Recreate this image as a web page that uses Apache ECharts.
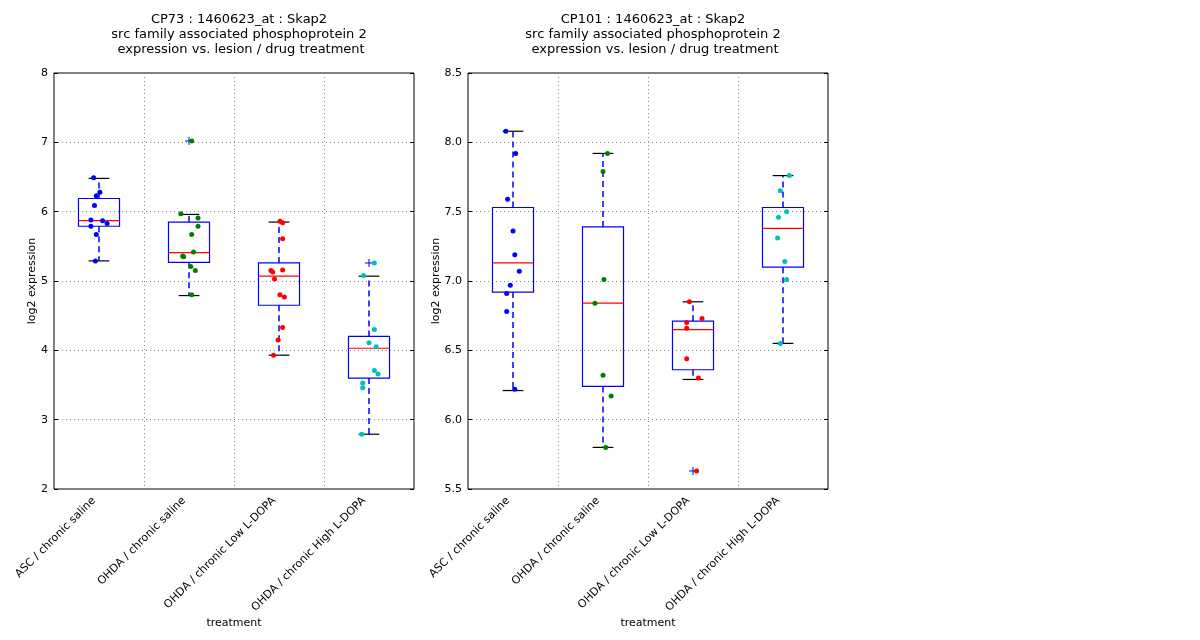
<!DOCTYPE html>
<html>
<head>
<meta charset="utf-8">
<script src="https://cdn.jsdelivr.net/npm/echarts@6/dist/echarts.min.js"></script>
<style>
  html, body { margin: 0; padding: 0; background: #fff; }
  #chart { width: 1200px; height: 640px; }
</style>
</head>
<body>
<div id="chart"></div>
<script>
// categories on the x axis
var categories = ['ASC / chronic saline', 'OHDA / chronic saline', 'OHDA / chronic Low L-DOPA', 'OHDA / chronic High L-DOPA'];
var groupColors = ['#0000ff', '#008000', '#ff0000', '#00bfbf'];

// box stats per group: [min, q1, median, q3, max]
var cp73Box = [[5.29, 5.79, 5.87, 6.19, 6.48], [4.79, 5.27, 5.41, 5.85, 5.96], [3.93, 4.65, 5.07, 5.26, 5.85], [2.79, 3.60, 4.03, 4.20, 5.07]];
var cp101Box = [[6.21, 6.92, 7.13, 7.53, 8.08], [5.80, 6.24, 6.84, 7.39, 7.92], [6.29, 6.36, 6.65, 6.71, 6.85], [6.55, 7.10, 7.38, 7.53, 7.76]];

// outliers: [group, value]
var cp73Outliers = [[2, 7.02], [4, 5.26]];
var cp101Outliers = [[3, 5.63]];

// jittered sample points: [x position, value]
var cp73Asc = [[0.94, 6.49], [1.01, 6.28], [0.97, 6.23], [0.95, 6.09], [0.91, 5.88], [1.04, 5.87], [1.09, 5.83], [0.91, 5.79], [0.97, 5.67], [0.96, 5.29]];
var cp73Saline = [[2.03, 7.02], [1.91, 5.97], [2.10, 5.91], [2.10, 5.79], [2.03, 5.67], [2.05, 5.42], [1.93, 5.36], [1.94, 5.35], [2.02, 5.21], [2.07, 5.15], [2.03, 4.80]];
var cp73Low = [[3.01, 5.86], [3.04, 5.84], [3.04, 5.61], [2.91, 5.15], [2.93, 5.13], [3.04, 5.16], [2.95, 5.03], [3.01, 4.80], [3.06, 4.77], [3.04, 4.33], [2.99, 4.15], [2.94, 3.93]];
var cp73High = [[4.06, 5.26], [3.94, 5.08], [4.06, 4.30], [4.00, 4.11], [4.08, 4.05], [4.06, 3.71], [4.10, 3.66], [3.93, 3.53], [3.93, 3.46], [3.92, 2.79]];

var cp101Asc = [[0.92, 8.08], [1.03, 7.92], [0.94, 7.59], [1.00, 7.36], [1.02, 7.19], [1.07, 7.07], [0.97, 6.97], [0.93, 6.91], [0.93, 6.78], [1.02, 6.22]];
var cp101Saline = [[2.05, 7.92], [2.00, 7.79], [2.01, 7.01], [1.91, 6.84], [2.00, 6.32], [2.09, 6.17], [2.03, 5.80]];
var cp101Low = [[2.96, 6.85], [3.10, 6.73], [2.93, 6.70], [2.93, 6.66], [2.93, 6.44], [3.06, 6.30], [3.04, 5.63]];
var cp101High = [[4.07, 7.76], [3.97, 7.65], [4.04, 7.50], [3.95, 7.46], [3.94, 7.31], [4.02, 7.14], [4.04, 7.01], [3.97, 6.55]];

var titles = [
  'CP73 : 1460623_at : Skap2\nsrc family associated phosphoprotein 2\n expression vs. lesion / drug treatment',
  'CP101 : 1460623_at : Skap2\nsrc family associated phosphoprotein 2\n expression vs. lesion / drug treatment'
];

var font = 'DejaVu Sans';
var halfBox = 0.228, halfCap = 0.115;

function boxRender(params, api) {
  var x = api.value(0);
  var mn = api.value(1), q1 = api.value(2), md = api.value(3), q3 = api.value(4), mx = api.value(5);
  function p(dx, v) { return api.coord([x + dx, v]); }
  function seg(a, b, style) {
    return { type: 'line', shape: { x1: a[0], y1: a[1], x2: b[0], y2: b[1] }, style: style };
  }
  var cx = Math.round(p(0, md)[0]);
  var whisk = { stroke: '#0000ff', lineWidth: 1.5, lineDash: [6, 4] };
  var cap = { stroke: '#000', lineWidth: 1.2 };
  var tl = p(-halfBox, q3), br = p(halfBox, q1);
  return {
    type: 'group',
    children: [
      seg([cx, p(0, q3)[1]], [cx, p(0, mx)[1]], whisk),
      seg([cx, p(0, q1)[1]], [cx, p(0, mn)[1]], whisk),
      seg(p(-halfCap, mx), p(halfCap, mx), cap),
      seg(p(-halfCap, mn), p(halfCap, mn), cap),
      { type: 'rect', shape: { x: tl[0], y: tl[1], width: br[0] - tl[0], height: br[1] - tl[1] },
        style: { fill: 'none', stroke: '#0000ff', lineWidth: 1.2 } },
      seg(p(-halfBox, md), p(halfBox, md), { stroke: '#ff0000', lineWidth: 1.2 })
    ]
  };
}

function plusRender(params, api) {
  var c = api.coord([api.value(0), api.value(1)]);
  var st = { stroke: '#0000ff', lineWidth: 1 };
  return {
    type: 'group',
    children: [
      { type: 'line', shape: { x1: c[0] - 4, y1: c[1], x2: c[0] + 4, y2: c[1] }, style: st },
      { type: 'line', shape: { x1: c[0], y1: c[1] - 4, x2: c[0], y2: c[1] + 4 }, style: st }
    ]
  };
}

var grids = [
  { left: 54, top: 73, width: 360, height: 416, show: true, borderColor: '#000', borderWidth: 1, backgroundColor: '#fff' },
  { left: 468, top: 73, width: 360, height: 416, show: true, borderColor: '#000', borderWidth: 1, backgroundColor: '#fff' }
];

var xAxes = [], yAxes = [], series = [];
var panels = [
  { box: cp73Box, outliers: cp73Outliers, points: [cp73Asc, cp73Saline, cp73Low, cp73High], min: 2, max: 8, interval: 1, nameGap: 16, fmt: function (v) { return String(v); } },
  { box: cp101Box, outliers: cp101Outliers, points: [cp101Asc, cp101Saline, cp101Low, cp101High], min: 5.5, max: 8.5, interval: 0.5, nameGap: 26, fmt: function (v) { return v.toFixed(1); } }
];

panels.forEach(function (pn, g) {
  xAxes.push({
    type: 'category', gridIndex: g, data: categories, boundaryGap: true,
    name: 'treatment', nameLocation: 'middle', nameGap: 129, nameMoveOverlap: false,
    nameTextStyle: { fontFamily: font, fontSize: 11, color: '#000' },
    axisLine: { show: false }, axisTick: { show: false },
    axisLabel: { rotate: 45, fontFamily: font, fontSize: 11, color: '#000', margin: 5, padding: [0, 7, 0, 0], interval: 0 },
    splitLine: { show: true, lineStyle: { color: '#888', type: [1, 3], width: 1 } }
  });
  var valIdx = xAxes.length;
  xAxes.push({ type: 'value', gridIndex: g, min: 0.5, max: 4.5, show: false, splitLine: { show: false } });

  var yIdx = yAxes.length;
  yAxes.push({
    type: 'value', gridIndex: g, min: pn.min, max: pn.max, interval: pn.interval,
    name: 'log2 expression', nameLocation: 'middle', nameGap: pn.nameGap, nameMoveOverlap: false,
    nameTextStyle: { fontFamily: font, fontSize: 11, color: '#000' },
    axisLine: { show: false },
    axisTick: { show: true, inside: true, length: 4, lineStyle: { color: '#000' } },
    axisLabel: { fontFamily: font, fontSize: 11, color: '#000', margin: 6, formatter: pn.fmt },
    splitLine: { show: true, lineStyle: { color: '#888', type: [1, 3], width: 1 } }
  });
  yAxes.push({
    type: 'value', gridIndex: g, position: 'right', min: pn.min, max: pn.max, interval: pn.interval,
    axisLine: { show: false }, axisLabel: { show: false }, splitLine: { show: false },
    axisTick: { show: true, inside: true, length: 4, lineStyle: { color: '#000' } }
  });

  series.push({
    type: 'custom', xAxisIndex: valIdx, yAxisIndex: yIdx, renderItem: boxRender, silent: true,
    data: pn.box.map(function (s, i) { return [i + 1].concat(s); }), z: 2
  });
  series.push({
    type: 'custom', xAxisIndex: valIdx, yAxisIndex: yIdx, renderItem: plusRender, silent: true,
    data: pn.outliers, z: 3
  });
  pn.points.forEach(function (pts, i) {
    series.push({
      type: 'scatter', xAxisIndex: valIdx, yAxisIndex: yIdx, data: pts,
      symbol: 'circle', symbolSize: 5, itemStyle: { color: groupColors[i], opacity: 1 }, z: 4, silent: true
    });
  });
});

var option = {
  backgroundColor: '#fff',
  animation: false,
  title: titles.map(function (t, i) {
    return {
      text: t, left: i === 0 ? 234 : 648, top: 7, textAlign: 'center',
      textStyle: { fontFamily: font, fontSize: 13, fontWeight: 'normal', color: '#000', lineHeight: 15, align: 'center' }
    };
  }),
  grid: grids,
  xAxis: xAxes,
  yAxis: yAxes,
  series: series
};

var myChart = echarts.init(document.getElementById('chart'));
myChart.setOption(option);
</script>
</body>
</html>
